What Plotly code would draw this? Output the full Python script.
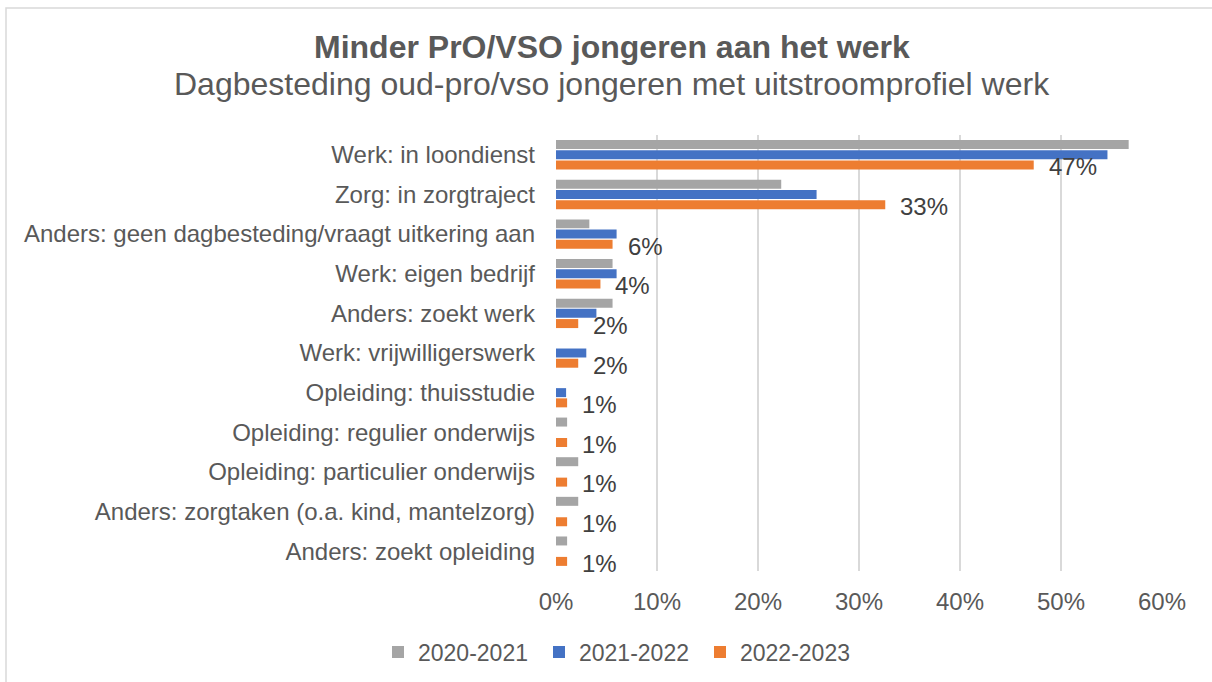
import plotly.graph_objects as go

categories = [
    "Werk: in loondienst",
    "Zorg: in zorgtraject",
    "Anders: geen dagbesteding/vraagt uitkering aan",
    "Werk: eigen bedrijf",
    "Anders: zoekt werk",
    "Werk: vrijwilligerswerk",
    "Opleiding: thuisstudie",
    "Opleiding: regulier onderwijs",
    "Opleiding: particulier onderwijs",
    "Anders: zorgtaken (o.a. kind, mantelzorg)",
    "Anders: zoekt opleiding",
]
s2020 = [0.567, 0.223, 0.033, 0.056, 0.056, 0.0, 0.0, 0.011, 0.022, 0.022, 0.011]
s2021 = [0.546, 0.258, 0.060, 0.060, 0.040, 0.030, 0.010, 0.0, 0.0, 0.0, 0.0]
s2022 = [0.473, 0.326, 0.056, 0.044, 0.022, 0.022, 0.011, 0.011, 0.011, 0.011, 0.011]
series_names = ["2020-2021", "2021-2022", "2022-2023"]
colors = ["#a5a5a5", "#4472c4", "#ed7d31"]
x_ticks = [0, 0.1, 0.2, 0.3, 0.4, 0.5, 0.6]

FONT = "Liberation Sans, Arial, sans-serif"
L, R, T, B = 556, 1162, 135, 571
PW, PH = R - L, B - T

fig = go.Figure()
for name, vals, col in zip(series_names, [s2020, s2021, s2022], colors):
    fig.add_trace(go.Bar(y=categories, x=vals, name=name, orientation="h",
                         marker=dict(color=col, line=dict(width=0))))

# data labels for latest series
for cat, v in zip(categories, s2022):
    fig.add_annotation(x=v, y=cat, xref="x", yref="y", text=f"{round(v*100):.0f}%",
                       showarrow=False, xanchor="left", yanchor="middle",
                       xshift=13, yshift=-12,
                       font=dict(size=24, color="#404040", family=FONT))

fig.update_layout(
    width=1212, height=682,
    margin=dict(l=L, r=1212 - R, t=T, b=682 - B, autoexpand=False),
    barmode="group", bargap=0.227, bargroupgap=0.12,
    plot_bgcolor="white", paper_bgcolor="white",
    font=dict(family=FONT, color="#595959", size=23),
    showlegend=True,
    legend=dict(orientation="h", x=(378 - L) / PW, xanchor="left",
                y=-(652 - B) / PH, yanchor="middle",
                font=dict(size=23, color="#595959"), traceorder="normal",
                itemwidth=30, entrywidth=116, entrywidthmode="pixels"),
    xaxis=dict(range=[0, 0.6], tickvals=x_ticks, tickformat=".0%",
               showgrid=True, gridcolor="#d9d9d9", gridwidth=1.5,
               zeroline=False, showline=False, ticks="", ticklabelstandoff=14,
               tickfont=dict(size=24, color="#595959")),
    yaxis=dict(type="category", range=[len(categories) - 0.5, -0.5], autorange=False,
               showgrid=False, ticks="",
               ticklabelstandoff=20, tickfont=dict(size=24, color="#595959")),
)
cx = (612 - L) / PW
fig.add_annotation(text="<b>Minder PrO/VSO jongeren aan het werk</b>",
                   x=cx, y=1 + (T - 47) / PH, xref="paper", yref="paper",
                   xanchor="center", yanchor="middle", showarrow=False,
                   font=dict(size=32, color="#595959", family=FONT))
fig.add_annotation(text="Dagbesteding oud-pro/vso jongeren met uitstroomprofiel werk",
                   x=cx, y=1 + (T - 84) / PH, xref="paper", yref="paper",
                   xanchor="center", yanchor="middle", showarrow=False,
                   font=dict(size=32, color="#595959", family=FONT))
fig.add_shape(type="rect", xref="paper", yref="paper",
              x0=(6 - L) / PW, x1=(1230 - L) / PW, y0=-(690 - B) / PH, y1=1 + (T - 8) / PH,
              line=dict(color="#d9d9d9", width=1.5), fillcolor="rgba(0,0,0,0)", layer="below")
fig.write_html("out.html", config={"displayModeBar": False},
               post_script="document.body.style.margin='0';")
